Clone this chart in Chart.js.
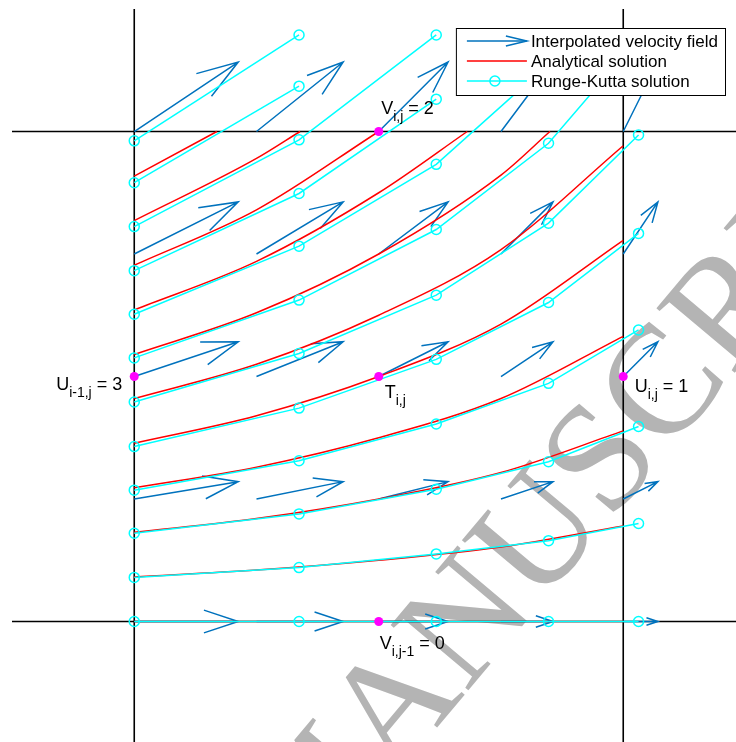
<!DOCTYPE html>
<html>
<head>
<meta charset="utf-8">
<script src="https://cdn.jsdelivr.net/npm/chart.js@4/dist/chart.umd.min.js"></script>
<style>
html,body{margin:0;padding:0;background:#fff}
canvas{display:block}
</style>
</head>
<body>
<canvas id="cell" width="736" height="742"></canvas>
<script>
/* DATA */
const cellEdges=[0,1];

// quiver nodes and the velocity read at each column / row
const gridX=[0,0.25,0.5,0.75,1];
const gridY=[0,0.25,0.5,0.75,1];
const velU=[3,2.5,2,1.5,1];
const velV=[0,0.5,1,1.5,2];

// Runge-Kutta steps, x is shared by every path
const rkX=[0,0.337,0.6176,0.8472,1.0313];
const rkY=[
[0.981,1.197],
[0.8955,1.0925],
[0.806,0.983,1.197],
[0.716,0.8735,1.066],
[0.627,0.766,0.933,1.138],
[0.538,0.656,0.800,0.976,1.190],
[0.448,0.547,0.666,0.813,0.993],
[0.357,0.4355,0.535,0.651,0.792],
[0.268,0.328,0.403,0.486,0.595],
[0.180,0.2196,0.270,0.326,0.398],
[0.090,0.110,0.138,0.165,0.200],
[0,0,0,0,0]
];

// analytical paths, sampled on redX until they leave through the top edge
const redX=[0,0.25,0.5,0.75,1];
const redY=[
[0,0,0,0,0],
[0.091,0.105,0.125,0.152,0.195],
[0.182,0.210,0.250,0.304,0.389],
[0.273,0.315,0.375,0.455,0.582],
[0.364,0.420,0.500,0.607,0.778],
[0.455,0.525,0.625,0.759,0.971],
[0.545,0.630,0.750,0.911],
[0.636,0.735,0.875],
[0.727,0.840],
[0.818,0.945],
[0.909]
];
const redExitX=[null,null,null,null,null,null,0.85,0.681,0.5,0.339,0.169];

// face / centre nodes
const nodeX=[0,1,0.5,0.5,0.5];
const nodeY=[0.5,0.5,1,0,0.5];
const nodeName=["U","U","V","V","T"];
const nodeSub=["i-1,j","i,j","i,j","i,j-1","i,j"];
const nodeVal=[3,1,2,0,null];

/* STYLE */
const arrowScale=0.0709, headA=0.33, headB=0.33;
const labelDx=[-12,11.5,2.5,1,6];
const labelDy=[13,15,-18,27,21];
const labelAlign=["right","left","left","left","left"];
const mainFont="18px 'Liberation Sans',Arial,sans-serif";
const subFont="14px 'Liberation Sans',Arial,sans-serif";

/* QUIVER */
let quiver=[];
gridX.forEach((x,i)=>{
gridY.forEach((y,j)=>{
let u=velU[i]*arrowScale, v=velV[j]*arrowScale;
let tx=x+u, ty=y+v;
quiver.push({x:x,y:y},{x:tx,y:ty},{x:tx,y:null});
quiver.push({x:tx-headA*(u+headB*v),y:ty-headA*(v-headB*u)},{x:tx,y:ty},
{x:tx-headA*(u-headB*v),y:ty-headA*(v+headB*u)},{x:tx,y:null});
});
});

let datasets=[];
datasets.push({
label:"Interpolated velocity field",isQuiver:true,
data:quiver,showLine:true,spanGaps:false,
borderColor:"#0072bd",borderWidth:1.5,pointRadius:0,order:3
});

redY.forEach((ys,k)=>{
let pts=ys.map((y,i)=>({x:redX[i],y:y}));
if(redExitX[k]!=null) pts.push({x:redExitX[k],y:cellEdges[1]});
datasets.push({
label:k==0?"Analytical solution":undefined,
data:pts,showLine:true,cubicInterpolationMode:"monotone",
borderColor:"#ff0000",borderWidth:1.5,pointRadius:0,order:2
});
});

rkY.forEach((ys,k)=>{
datasets.push({
label:k==0?"Runge-Kutta solution":undefined,
data:ys.map((y,i)=>({x:rkX[i],y:y})),showLine:true,tension:0,
borderColor:"#00ffff",borderWidth:1.5,
pointRadius:5,pointBorderWidth:1.5,pointBorderColor:"#00ffff",pointBackgroundColor:"rgba(0,0,0,0)",
order:1
});
});

datasets.push({
data:nodeX.map((x,i)=>({x:x,y:nodeY[i]})),
pointRadius:4.5,pointBackgroundColor:"#ff00ff",pointBorderWidth:0,order:0
});

/* PLUGINS */
const watermark={
id:"watermark",
beforeDraw(c){
let g=c.ctx;
g.save();
g.font="155px 'Liberation Serif','Times New Roman',serif";
g.fillStyle="#b4b4b4";
g.textBaseline="middle";
g.translate(606,463);
g.rotate(-50*Math.PI/180);
let off=g.measureText("ACCEPTED MANU").width+g.measureText("S").width/2;
g.fillText("ACCEPTED MANUSCRIPT",-off,0);
g.restore();
}
};

// cell edges, full length across the plot
const cellLines={
id:"cellLines",
beforeDatasetsDraw(c){
let g=c.ctx, a=c.chartArea, sx=c.scales.x, sy=c.scales.y;
g.save();
g.strokeStyle="#000"; g.lineWidth=1.6;
g.beginPath();
cellEdges.forEach(v=>{
let px=sx.getPixelForValue(v), py=sy.getPixelForValue(v);
g.moveTo(px,a.top); g.lineTo(px,a.bottom);
g.moveTo(a.left,py); g.lineTo(a.right,py);
});
g.stroke();
g.restore();
}
};

const nodeLabels={
id:"nodeLabels",
afterDatasetsDraw(c){
let g=c.ctx, sx=c.scales.x, sy=c.scales.y;
g.save();
g.fillStyle="#000";
g.textBaseline="alphabetic";
nodeX.forEach((x,i)=>{
let main=nodeName[i], sub=nodeSub[i], rest=nodeVal[i]==null?"":" = "+nodeVal[i];
g.font=mainFont;
let w1=g.measureText(main).width, w3=g.measureText(rest).width;
g.font=subFont;
let w2=g.measureText(sub).width;
let px=sx.getPixelForValue(x)+labelDx[i];
let py=sy.getPixelForValue(nodeY[i])+labelDy[i];
if(labelAlign[i]=="right") px-=w1+w2+w3;
g.font=mainFont; g.fillText(main,px,py);
g.font=subFont; g.fillText(sub,px+w1,py+7);
g.font=mainFont; g.fillText(rest,px+w1+w2,py);
});
g.restore();
}
};

const boxLegend={
id:"boxLegend",
afterDraw(c){
let g=c.ctx, a=c.chartArea;
let items=c.data.datasets.filter(d=>d.label);
g.save();
g.font="17px 'Liberation Sans',Arial,sans-serif";
let tw=Math.max(...items.map(d=>g.measureText(d.label).width));
let w=75+tw+8, h=68, right=a.right-10, top=a.top+19, left=right-w;
g.fillStyle="#fff";
g.fillRect(left,top,w,h);
g.strokeStyle="#000"; g.lineWidth=1;
g.strokeRect(left+0.5,top+0.5,w-1,h-1);
items.forEach((d,i)=>{
let y=top+13+i*20, x0=left+11, x1=left+71;
g.strokeStyle=d.borderColor; g.lineWidth=1.5;
g.beginPath(); g.moveTo(x0,y); g.lineTo(x1,y); g.stroke();
if(d.isQuiver){
g.beginPath(); g.moveTo(x1-21,y-5); g.lineTo(x1,y); g.lineTo(x1-21,y+5); g.stroke();
}
if(d.pointRadius){
g.beginPath(); g.arc((x0+x1)/2-2,y,5,0,2*Math.PI); g.stroke();
}
g.fillStyle="#000";
g.fillText(d.label,left+75,y+6);
});
g.restore();
}
};

/* CHART */
new Chart(document.getElementById("cell"),{
type:"scatter",
data:{datasets:datasets},
options:{
responsive:false,
animation:false,
events:[],
devicePixelRatio:1,
layout:{autoPadding:false,padding:{left:12,top:9,right:0,bottom:0}},
scales:{
x:{type:"linear",min:-0.25,max:1.2306,display:false},
y:{type:"linear",min:-0.2459,max:1.25,display:false}
},
plugins:{legend:{display:false},tooltip:{enabled:false}}
},
plugins:[watermark,cellLines,nodeLabels,boxLegend]
});
</script>
</body>
</html>
